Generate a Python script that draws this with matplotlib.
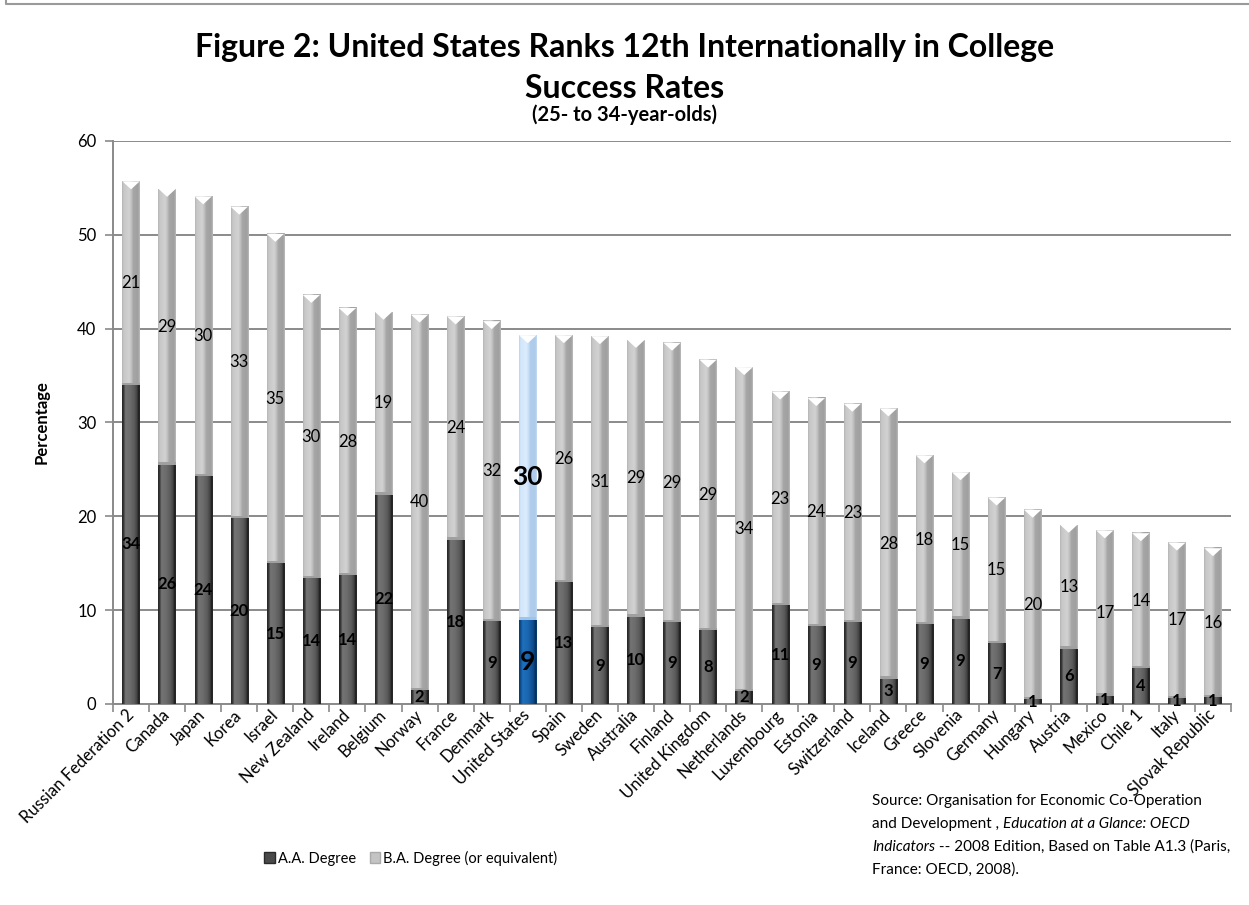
import matplotlib
matplotlib.use("Agg")
import matplotlib.pyplot as plt
import numpy as np
from matplotlib.patches import Patch, Polygon
from matplotlib.colors import to_rgb
from matplotlib.lines import Line2D

# data (percent of 25- to 34-year-olds)
countries = ["Russian Federation 2", "Canada", "Japan", "Korea", "Israel", "New Zealand",
             "Ireland", "Belgium", "Norway", "France", "Denmark", "United States", "Spain",
             "Sweden", "Australia", "Finland", "United Kingdom", "Netherlands", "Luxembourg",
             "Estonia", "Switzerland", "Iceland", "Greece", "Slovenia", "Germany", "Hungary",
             "Austria", "Mexico", "Chile 1", "Italy", "Slovak Republic"]
aa_values = [34.0, 25.5, 24.3, 19.8, 15.0, 13.4, 13.7, 22.3, 1.5, 17.5, 8.8, 9.0, 13.0,
             8.2, 9.3, 8.7, 7.9, 1.4, 10.5, 8.3, 8.7, 2.7, 8.5, 9.1, 6.5, 0.5,
             5.9, 0.9, 3.8, 0.6, 0.7]
ba_values = [21.7, 29.4, 29.8, 33.2, 35.1, 30.2, 28.5, 19.5, 40.0, 23.8, 32.0, 30.3, 26.3,
             31.0, 29.5, 29.8, 28.8, 34.5, 22.8, 24.3, 23.3, 28.8, 18.0, 15.6, 15.5, 20.2,
             13.2, 17.6, 14.4, 16.6, 15.9]
aa_labels = [34, 26, 24, 20, 15, 14, 14, 22, 2, 18, 9, 9, 13, 9, 10, 9, 8, 2, 11, 9, 9, 3,
             9, 9, 7, 1, 6, 1, 4, 1, 1]
ba_labels = [21, 29, 30, 33, 35, 30, 28, 19, 40, 24, 32, 30, 26, 31, 29, 29, 29, 34, 23, 24,
             23, 28, 18, 15, 15, 20, 13, 17, 14, 17, 16]
highlight = "United States"

FONT = "Lato"
plt.rcParams["font.family"] = [FONT, "DejaVu Sans"]

# cylinder-ish shading stops across the bar width
aa_grey = [(0, "#262626"), (0.1, "#3a3a3a"), (0.18, "#747474"), (0.45, "#6c6c6c"),
           (0.7, "#5a5a5a"), (0.85, "#404040"), (0.93, "#1c1c1c"), (1, "#2c2c2c")]
ba_grey = [(0, "#b4b4b4"), (0.08, "#c6c6c6"), (0.4, "#d2d2d2"), (0.55, "#bcbcbc"),
           (0.62, "#a6a6a6"), (0.9, "#a0a0a0"), (1, "#bbbbbb")]
aa_blue = [(0, "#083a70"), (0.1, "#0f4f92"), (0.2, "#2070bb"), (0.5, "#1a66b0"),
           (0.8, "#0e4a8a"), (0.92, "#062f5e"), (1, "#0b3d72")]
ba_blue = [(0, "#b7d2ef"), (0.08, "#d2e5fa"), (0.4, "#dcecfd"), (0.55, "#c6ddf6"),
           (0.62, "#b2cdec"), (0.9, "#afcbea"), (1, "#c3daf3")]


def shade(ax, x, bottom, height, width, stops, z=3):
    pos = [s[0] for s in stops]
    cols = np.array([to_rgb(s[1]) for s in stops])
    u = np.linspace(0, 1, 80)
    img = np.stack([np.interp(u, pos, cols[:, k]) for k in range(3)], axis=-1)[None, :, :]
    ax.imshow(img, extent=(x - width / 2, x + width / 2, bottom, bottom + height),
              aspect="auto", interpolation="bilinear", zorder=z)


fig = plt.figure(figsize=(12.49, 9.05), dpi=100)
ax = fig.add_axes([0.0905, 0.2221, 0.8951, 0.6221])

xs = np.arange(len(countries))
width = 0.48
ax.bar(xs, aa_values, width, color="#555555", zorder=2)
ax.bar(xs, ba_values, width, bottom=aa_values, color="#bbbbbb", zorder=2)

for i, c in enumerate(countries):
    hl = c == highlight
    aa, ba = aa_values[i], ba_values[i]
    shade(ax, i, 0, aa, width, aa_blue if hl else aa_grey)
    shade(ax, i, aa, ba, width, ba_blue if hl else ba_grey)
    # light rim where the two segments meet
    ax.add_patch(Polygon([(i - width / 2, aa), (i + width / 2, aa), (i + width / 2, aa + 0.25),
                          (i - width / 2, aa + 0.25)], closed=True,
                         facecolor="#9fc4ec" if hl else "#a0a0a0", edgecolor="none", zorder=4))
    top = aa + ba
    ax.add_patch(Polygon([(i - width / 2, top), (i + width / 2, top), (i, top - 0.85)],
                         closed=True, facecolor="white", edgecolor="none", zorder=4))
    fs = 19 if hl else 12
    ax.text(i, aa / 2, str(aa_labels[i]), ha="center", va="center", fontsize=fs,
            fontweight="bold", color="black", zorder=5)
    ax.text(i, aa + ba / 2, str(ba_labels[i]), ha="center", va="center", fontsize=fs,
            fontweight="bold" if hl else "normal", color="black", zorder=5)

ax.set_xlim(-0.5, len(countries) - 0.5)
ax.set_ylim(0, 60)
ax.set_yticks(range(0, 61, 10))
ax.yaxis.grid(True, color="#8a8a8a", linewidth=1.4, zorder=0)
ax.set_axisbelow(True)
for s in ["top", "right"]:
    ax.spines[s].set_visible(False)
for s in ["left", "bottom"]:
    ax.spines[s].set_color("#8a8a8a")
    ax.spines[s].set_linewidth(1.4)

# tick_params first: changing pad later would reset the label alignment
ax.tick_params(axis="x", which="major", length=0, pad=6)
ax.tick_params(axis="x", which="minor", length=6, color="#8a8a8a", width=1.2)
ax.tick_params(axis="y", length=6, color="#8a8a8a", width=1.2, labelsize=12, pad=6)
ax.set_xticks(xs)
ax.set_xticklabels(countries, rotation=45, ha="right", va="center", rotation_mode="anchor",
                   fontsize=12)
ax.set_xticks(np.arange(-0.5, len(countries), 1.0), minor=True)
ax.set_ylabel("Percentage", fontsize=12, fontweight="bold", labelpad=20)

fig.text(0.5, 0.948, "Figure 2: United States Ranks 12th Internationally in College",
         ha="center", va="center", fontsize=23, fontweight="bold")
fig.text(0.5, 0.902, "Success Rates", ha="center", va="center", fontsize=23, fontweight="bold")
fig.text(0.5, 0.873, "(25- to 34-year-olds)", ha="center", va="center", fontsize=14.5,
         fontweight="bold")

handles = [Patch(facecolor="#4a4a4a", edgecolor="#2a2a2a", label="A.A. Degree"),
           Patch(facecolor="#c4c4c4", edgecolor="#aaaaaa", label="B.A. Degree (or equivalent)")]
fig.legend(handles=handles, loc="center", bbox_to_anchor=(0.329, 1 - 858 / 905), ncol=2,
           frameon=False, fontsize=10.5, handlelength=0.7, handleheight=0.7,
           handletextpad=0.2, columnspacing=1.0)

# source note with italic pieces
source_lines = [
    [("Source: Organisation for Economic Co-Operation", "normal")],
    [("and Development , ", "normal"), ("Education at a Glance: OECD", "italic")],
    [("Indicators", "italic"), (" -- 2008 Edition, Based on Table A1.3 (Paris,", "normal")],
    [("France: OECD, 2008).", "normal")],
]
renderer = fig.canvas.get_renderer()
W = fig.get_figwidth() * fig.dpi
y0 = 1 - 801 / 905
for k, line in enumerate(source_lines):
    x = 872 / W
    y = y0 - k * 23 / 905
    for txt, style in line:
        t = fig.text(x, y, txt, ha="left", va="center", fontsize=11, style=style)
        x = t.get_window_extent(renderer).x1 / W

# chart-area border (top and left edges)
fig.add_artist(Line2D([6 / W, 6 / W, 1], [1, 1 - 4 / 905, 1 - 4 / 905],
                      color="#9a9a9a", linewidth=1.5))

fig.savefig("out.png", dpi=100)
